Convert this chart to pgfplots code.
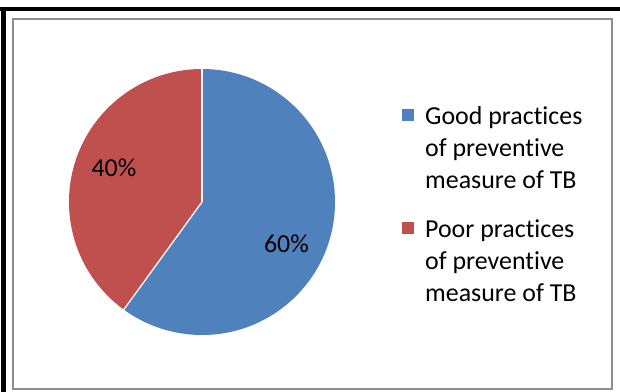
\documentclass[border=0pt]{standalone}
\usepackage{fontspec}
\setmainfont{Carlito}[Ligatures={NoCommon}]
\usepackage{pgfplots}
\pgfplotsset{compat=1.18}
\definecolor{pieblue}{HTML}{4F81BD}
\definecolor{piered}{HTML}{C0504D}
\definecolor{framegray}{HTML}{8C8C8C}
% data (percent)
\def\valGood{60}
\def\valPoor{40}
\begin{document}
\begin{tikzpicture}
\pgfmathsetmacro\angA{90-3.6*\valGood}
\pgfmathsetmacro\angB{\angA-3.6*\valPoor}
\begin{axis}[
  at={(0,0)}, anchor=south west,
  width=620bp, height=392bp, scale only axis,
  xmin=0, xmax=620, ymin=0, ymax=392,
  hide axis, clip=false,
]
% frames
\draw[framegray, line width=1.6bp] (axis cs:13,3) rectangle (axis cs:612,373);
\draw[black, line width=4.5bp] (axis cs:0,383) -- (axis cs:620,383);
\draw[black, line width=4.5bp] (axis cs:3.5,385) -- (axis cs:3.5,0);
% pie
\fill[pieblue] (axis cs:202,190) -- ++(90:133bp) arc[start angle=90, end angle=\angA, radius=133bp] -- cycle;
\fill[piered] (axis cs:202,190) -- ++(\angA:133bp) arc[start angle=\angA, end angle=\angB, radius=133bp] -- cycle;
\draw[white, line width=1.3bp] (axis cs:202,190) -- ++(90:133.5bp);
\draw[white, line width=1.3bp] (axis cs:202,190) -- ++(\angA:133.5bp);
% labels
\node[anchor=base, font=\fontsize{26}{30}\selectfont] at (axis cs:114,215) {40\%};
\node[anchor=base, font=\fontsize{26}{30}\selectfont] at (axis cs:286.5,139) {60\%};
% legend
\fill[pieblue] (axis cs:402,271) rectangle (axis cs:414,283);
\fill[piered] (axis cs:402,158) rectangle (axis cs:414,170);
\begin{scope}[every node/.style={anchor=base west, inner sep=0pt, font=\fontsize{26}{30}\selectfont}]
\node at (axis cs:425,267) {Good practices};
\node at (axis cs:425,235) {of preventive};
\node at (axis cs:425,203) {measure of TB};
\node at (axis cs:425,154) {Poor practices};
\node at (axis cs:425,122) {of preventive};
\node at (axis cs:425,90) {measure of TB};
\end{scope}
\end{axis}
\pgfresetboundingbox
\useasboundingbox (0,0) rectangle (620bp,392bp);
\end{tikzpicture}
\end{document}
